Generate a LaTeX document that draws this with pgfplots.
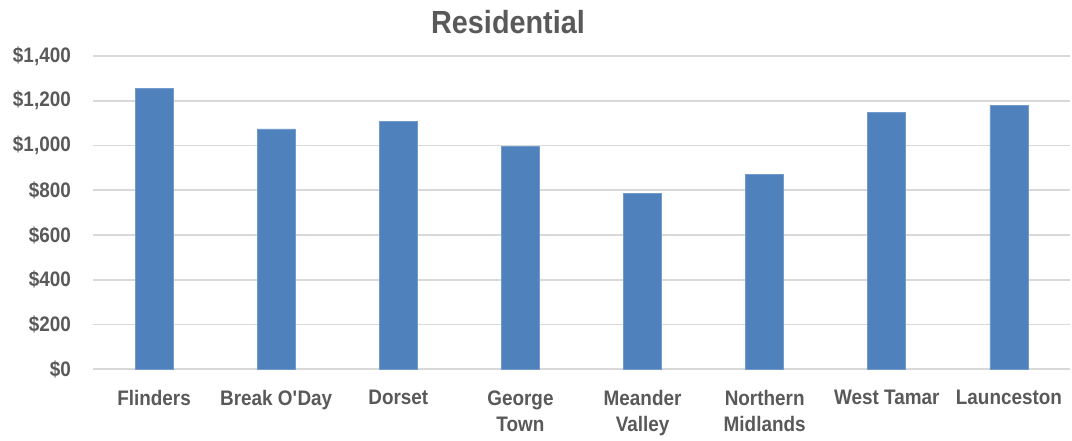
\documentclass[border=0pt]{standalone}
\usepackage{fontspec}
\setmainfont{Liberation Sans}[FakeStretch=0.9]
\usepackage{pgfplots}
\pgfplotsset{compat=1.18}
\definecolor{textgray}{HTML}{595959}
\definecolor{barblue}{HTML}{4F81BD}
\definecolor{gridgray}{HTML}{D9D9D9}
\begin{document}
\begin{tikzpicture}[x=1pt,y=1pt]
\useasboundingbox (0,0) rectangle (1072,441);
\begin{axis}[
  at={(93pt,71.7pt)}, anchor=south west,
  scale only axis, width=977pt, height=313.3pt,
  xmin=-0.5, xmax=7.5, ymin=0, ymax=1400,
  ytick={0,200,...,1400},
  xtick={0,...,7},
  xticklabels={Flinders,Break O\textquotesingle Day,Dorset,George\\Town,Meander\\Valley,Northern\\Midlands,West Tamar,Launceston},
  axis line style={draw=none},
  major tick length=0pt,
  ymajorgrids, grid style={gridgray, line width=1.6pt},
  /pgf/number format/assume math mode=true,
  /pgf/number format/1000 sep={,},
  yticklabel={\$\pgfmathprintnumber{\tick}},
  ticklabel style={font=\bfseries\fontsize{21}{26}\selectfont, text=textgray},
  yticklabel style={anchor=east, inner sep=0pt, xshift=-22pt},
  xticklabel style={anchor=north, align=center, inner sep=0pt, yshift=-21pt},
  ybar, bar width=38pt,
  clip=false,
]
\addplot[fill=barblue, draw=barblue!80!white, line width=0.8pt] coordinates {
  (0,1253) (1,1074) (2,1108) (3,996) (4,787) (5,870) (6,1147) (7,1181)
};
\end{axis}
\node[font=\bfseries\fontsize{32}{38}\selectfont, text=textgray, anchor=base] at (508,407) {Residential};
\end{tikzpicture}
\end{document}
